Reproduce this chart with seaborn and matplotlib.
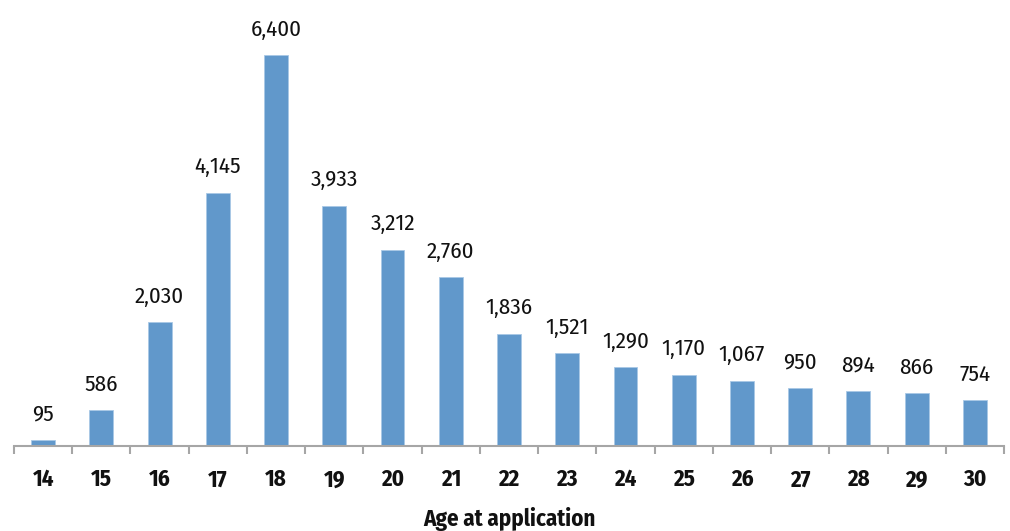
import matplotlib
matplotlib.use('Agg')
import matplotlib.pyplot as plt
import seaborn as sns
import pandas as pd

sns.set_theme(style='white')
plt.rcParams['font.family'] = ['Fira Sans Condensed', 'PT Sans Narrow', 'Roboto Condensed', 'DejaVu Sans']

# data
ages = [14, 15, 16, 17, 18, 19, 20, 21, 22, 23, 24, 25, 26, 27, 28, 29, 30]
counts = [95, 586, 2030, 4145, 6400, 3933, 3212, 2760, 1836, 1521, 1290,
          1170, 1067, 950, 894, 866, 754]
x_title = 'Age at application'

df = pd.DataFrame({'age': [str(a) for a in ages], 'count': counts})

fig = plt.figure(figsize=(10.1, 5.31), dpi=100)
ax = fig.add_axes([14 / 1010, 85 / 531, 990 / 1010, 446 / 531])

sns.barplot(data=df, x='age', y='count', ax=ax, color='#6198cb',
            width=0.41, edgecolor='#a9c8e6', linewidth=0.6, saturation=1)

# value labels above the bars
for i, v in enumerate(counts):
    ax.annotate(f'{v:,}', (i, v), xytext=(0, 14), textcoords='offset points',
                ha='center', va='baseline', fontsize=16.5, color='#111111')

ax.set_ylim(0, 7300)
ax.set_xlim(-0.5, len(ages) - 0.5)
ax.set_yticks([])
ax.set_ylabel('')
for s in ['top', 'right', 'left']:
    ax.spines[s].set_visible(False)
ax.spines['bottom'].set_color('#a6a6a6')
ax.spines['bottom'].set_linewidth(1.5)

# ticks sit between categories
ax.set_xticks([i - 0.5 for i in range(len(ages) + 1)], minor=True)
ax.tick_params(axis='x', which='minor', length=6, width=1.5, color='#a6a6a6',
               direction='out', bottom=True)
ax.tick_params(axis='x', which='major', length=0, pad=16, labelsize=16.5,
               labelcolor='#111111')
for t in ax.get_xticklabels():
    t.set_fontweight('bold')
ax.set_xlabel(x_title, fontsize=16.5, fontweight='bold', labelpad=11, color='#111111')

fig.savefig('out.png', dpi=100)
